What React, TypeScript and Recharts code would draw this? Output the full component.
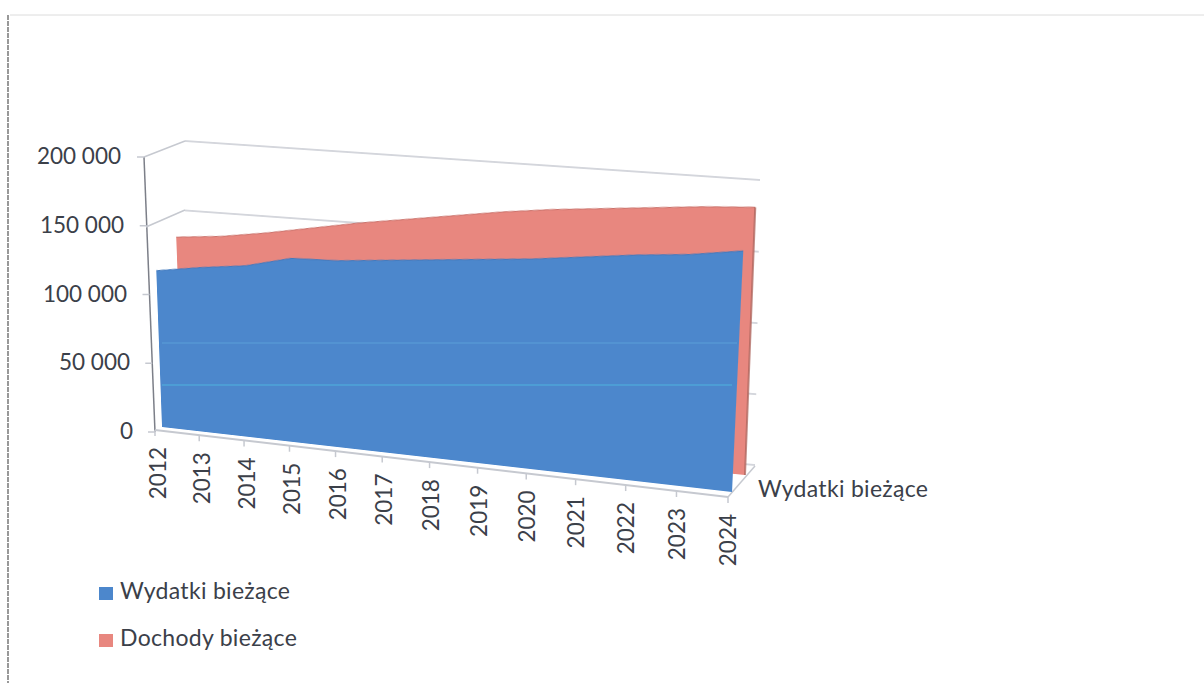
import React from 'react';
import { Area, AreaChart, ReferenceLine, XAxis, YAxis } from 'recharts';

const years = ['2012', '2013', '2014', '2015', '2016', '2017', '2018', '2019', '2020', '2021', '2022', '2023', '2024'];
const wydatki = [116000, 121000, 125000, 133000, 134000, 137000, 140000, 143000, 146000, 150000, 154000, 157000, 162000];
const dochody = [137000, 140000, 145000, 151000, 157000, 162000, 167000, 172000, 176000, 179000, 182000, 185000, 187000];
const yTicks = [0, 50000, 100000, 150000, 200000];
const seriesNames = ['Wydatki bieżące', 'Dochody bieżące'];
const seriesColors = ['#4c87cc', '#e8877f'];

const data = years.map((year, i) => ({ year, wydatki: wydatki[i], dochody: dochody[i] }));

const FONT = 'Lato, sans-serif';
const TEXT = '#3b4049';
const GRID = '#c6c9d0';
const PLOT_W = 600;
const PLOT_H = 300;
const M = 4;

type Quad = number[][];

// perspective planes, corners: top left, top right, bottom right, bottom left
const wallQuad: Quad = [[185, 141], [760, 180], [755, 465], [185, 417]];
const redQuad: Quad = [[173, 150], [756, 188], [745, 475], [183, 420]];
const blueQuad: Quad = [[152, 153], [746, 192], [732, 492], [162, 427]];

// square to quad projection, written as a css matrix3d for the plot rect
const quadMatrix = (q: Quad) => {
  const [[x0, y0], [x1, y1], [x2, y2], [x3, y3]] = q;
  const dx1 = x1 - x2, dx2 = x3 - x2, sx = x0 - x1 + x2 - x3;
  const dy1 = y1 - y2, dy2 = y3 - y2, sy = y0 - y1 + y2 - y3;
  const den = dx1 * dy2 - dx2 * dy1;
  const g = (sx * dy2 - dx2 * sy) / den;
  const h = (dx1 * sy - sx * dy1) / den;
  const a = x1 - x0 + g * x1, b = x3 - x0 + h * x3, c = x0;
  const d = y1 - y0 + g * y1, e = y3 - y0 + h * y3, f = y0;
  const W = PLOT_W, H = PLOT_H;
  const n = [
    a / W, d / W, 0, g / W,
    b / H, e / H, 0, h / H,
    0, 0, 1, 0,
    c - (a * M) / W - (b * M) / H, f - (d * M) / W - (e * M) / H, 0, 1 - (g * M) / W - (h * M) / H,
  ];
  return `matrix3d(${n.join(',')})`;
};

const Plane = ({ quad, children }: { quad: Quad; children: React.ReactNode }) => (
  <div style={{ position: 'absolute', left: 0, top: 0, transformOrigin: '0 0', transform: quadMatrix(quad) }}>
    <AreaChart width={PLOT_W + 2 * M} height={PLOT_H + 2 * M} data={data} margin={{ top: M, right: M, bottom: M, left: M }}>
      <XAxis dataKey="year" hide scale="point" padding={{ left: 0, right: 0 }} />
      <YAxis hide domain={[0, 200000]} ticks={yTicks} />
      {children}
    </AreaChart>
  </div>
);

// front floor edge, spacing grows towards the viewer
const floorPoint = (t: number) => {
  const r = 0.92;
  const w = 1 + t * (r - 1);
  return [(155 + t * (r * 728 - 155)) / w, (430 + t * (r * 497 - 430)) / w];
};

const YearTick = ({ index, payload }: any) => {
  const t = index / (years.length - 1);
  const [x, y] = floorPoint(t);
  return (
    <g>
      <line x1={x} y1={y} x2={x} y2={y + 6} stroke={GRID} strokeWidth={1.5} />
      <text
        transform={`translate(${x + 11 - 3 * t},${y + 17}) rotate(-90)`}
        textAnchor="end"
        fontFamily={FONT}
        fontSize={22.5}
        fill={TEXT}
      >
        {payload.value}
      </text>
    </g>
  );
};

const ValueTick = ({ y, payload }: any) => {
  const k = (y - 157) / 275;
  const axisX = 144 + 11 * k;
  return (
    <g>
      <line x1={axisX - 7} y1={y} x2={axisX} y2={y} stroke={GRID} strokeWidth={1.5} />
      <text x={121 + 12 * k} y={y + 7} textAnchor="end" fontFamily={FONT} fontSize={22.5} fill={TEXT}>
        {String(payload.value).replace(/\B(?=(\d{3})+$)/g, ' ')}
      </text>
    </g>
  );
};

export default function App() {
  return (
    <div style={{ position: 'absolute', left: 0, top: 0, width: 1204, height: 683, overflow: 'hidden', background: '#fff', filter: 'blur(0.5px)' }}>
      <div style={{ position: 'absolute', left: 0, top: 0 }}>
        <AreaChart width={1204} height={683} data={data} margin={{ top: 157, right: 476, bottom: 0, left: 0 }}>
          <XAxis dataKey="year" height={251} scale="point" interval={0} axisLine={false} tickLine={false} tick={YearTick} />
          <YAxis width={155} domain={[0, 200000]} ticks={yTicks} axisLine={false} tickLine={false} tick={ValueTick} />
          <Area dataKey="wydatki" stroke="none" fill="none" isAnimationActive={false} />
          {/* scan border */}
          <line x1={8} y1={15} x2={8} y2={683} stroke="#555" strokeWidth={1.2} strokeDasharray="5 1" />
          <line x1={10} y1={15} x2={1204} y2={15} stroke="#dcdcdc" />
          {/* axis frame */}
          <line x1={144} y1={157} x2={155} y2={432} stroke="#7c7f88" strokeWidth={1.5} />
          <line x1={155} y1={430} x2={728} y2={497} stroke={GRID} strokeWidth={2} />
          <line x1={728} y1={497} x2={755} y2={466} stroke={GRID} strokeWidth={1.5} />
          <line x1={144} y1={157} x2={185} y2={141} stroke={GRID} strokeWidth={1.5} />
          <line x1={146} y1={227} x2={185} y2={210} stroke={GRID} strokeWidth={1.5} />
          <text x={758} y={497} fontFamily={FONT} fontSize={23} letterSpacing={0.3} fill={TEXT}>Wydatki bieżące</text>
          {/* legend */}
          {seriesNames.map((name, i) => (
            <g key={name}>
              <rect x={99} y={587 + i * 47} width={14} height={13} fill={seriesColors[i]} />
              <text x={120} y={599 + i * 47} fontFamily={FONT} fontSize={23} letterSpacing={0.3} fill={TEXT}>{name}</text>
            </g>
          ))}
        </AreaChart>
      </div>
      <Plane quad={wallQuad}>
        <Area dataKey="dochody" stroke="none" fill="none" isAnimationActive={false} />
        {yTicks.map((tick) => (
          <ReferenceLine key={tick} y={tick} stroke={GRID} strokeWidth={1.5} />
        ))}
      </Plane>
      <Plane quad={redQuad}>
        <Area dataKey="dochody" type="linear" stroke="#c96f68" fill={seriesColors[1]} fillOpacity={1} isAnimationActive={false} />
        <ReferenceLine
          segment={[{ x: years[years.length - 1], y: 0 }, { x: years[years.length - 1], y: dochody[dochody.length - 1] }]}
          stroke="#ac655c"
          strokeWidth={1.5}
        />
      </Plane>
      <Plane quad={blueQuad}>
        <Area dataKey="wydatki" type="linear" stroke="#3f78bd" fill={seriesColors[0]} fillOpacity={1} isAnimationActive={false} />
      </Plane>
      <div style={{ position: 'absolute', left: 162, top: 384, width: 570, height: 2, background: '#4fa6d8', opacity: 0.7 }} />
      <div style={{ position: 'absolute', left: 162, top: 342, width: 575, height: 2, background: '#5a9fd8', opacity: 0.5 }} />
    </div>
  );
}
